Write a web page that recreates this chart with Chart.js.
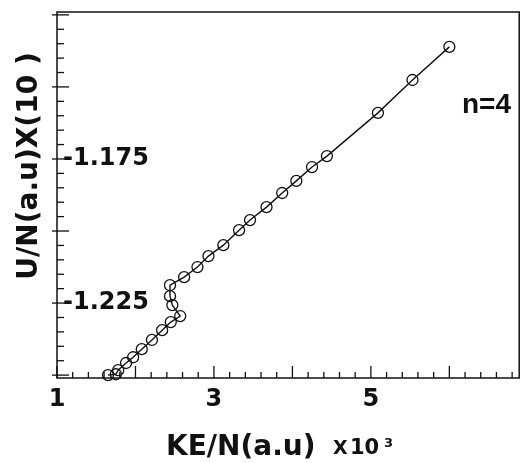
<!DOCTYPE html>
<html>
<head>
<meta charset="utf-8">
<script src="https://cdn.jsdelivr.net/npm/chart.js@4/dist/chart.umd.min.js"></script>
<style>
  html, body { margin: 0; padding: 0; background: #fff; overflow: hidden; }
  canvas { display: block; }
</style>
</head>
<body>
<canvas id="chart" width="526" height="463"></canvas>
<script>
// KE/N (x10^3) and U/N values, in drawing order
const keValues = [1.65, 1.75, 1.78, 1.88, 1.97, 2.08, 2.21, 2.34, 2.45, 2.57,
                  2.47, 2.44, 2.44, 2.62, 2.79, 2.93, 3.12, 3.32, 3.46, 3.67,
                  3.87, 4.05, 4.25, 4.44, 5.09, 5.53, 6.00];
const uValues = [-1.2500, -1.2497, -1.2483, -1.2458, -1.2438, -1.2410, -1.2378, -1.2344, -1.2316, -1.2295,
                 -1.2257, -1.2226, -1.2188, -1.2160, -1.2125, -1.2087, -1.2049, -1.1997, -1.1962, -1.1917,
                 -1.1868, -1.1826, -1.1778, -1.1740, -1.1590, -1.1476, -1.1361];

// tick labels
const xTickLabels = [1, 3, 5];
const yTickLabels = [-1.175, -1.225];

// axis runs off the right edge of the scan
const X_MIN = 1, X_MAX = 6.89;
const Y_MIN = -1.251, Y_MAX = -1.124;
const INK = '#111';

// inward tick marks + frame, drawn through the chart scales
const frameTicks = {
    id: 'frameTicks',
    afterDraw(chart) {
        const { ctx, chartArea: a, scales: { x, y } } = chart;
        ctx.save();
        ctx.strokeStyle = INK;
        ctx.lineWidth = 1.5;
        ctx.strokeRect(a.left, a.top, a.right - a.left, a.bottom - a.top);

        ctx.lineWidth = 1.3;
        // x: minor every 0.2, major every 1
        for (let i = 0; X_MIN + i * 0.2 <= X_MAX; i++) {
            const px = x.getPixelForValue(X_MIN + i * 0.2);
            const len = i % 5 === 0 ? 12 : 6;
            ctx.beginPath();
            ctx.moveTo(px, a.bottom);
            ctx.lineTo(px, a.bottom - len);
            ctx.stroke();
        }
        // y: minor every 0.005, major every 0.025
        for (let i = 0; i <= 25; i++) {
            const py = y.getPixelForValue(-1.25 + i * 0.005);
            const major = i % 5 === 0;
            ctx.beginPath();
            ctx.moveTo(a.left - (major ? 5 : 0), py);
            ctx.lineTo(a.left + (major ? 12 : 7), py);
            ctx.stroke();
        }

        // text
        ctx.fillStyle = INK;
        ctx.textBaseline = 'alphabetic';

        ctx.font = 'bold 28px "Liberation Sans", Arial, sans-serif';
        ctx.textAlign = 'left';
        ctx.fillText('n=4', 462, 113);

        ctx.font = 'bold 28px "DejaVu Sans", sans-serif';
        ctx.fillText('KE/N(a.u)', 166, 455);

        ctx.font = 'bold 19px "DejaVu Sans", sans-serif';
        ctx.fillText('X', 333, 454);
        ctx.font = 'bold 21px "DejaVu Sans", sans-serif';
        ctx.fillText('10', 350, 454);
        ctx.font = 'bold 13px "DejaVu Sans", sans-serif';
        ctx.fillText('3', 384, 447);

        ctx.translate(37, 166);
        ctx.rotate(-Math.PI / 2);
        ctx.textAlign = 'center';
        ctx.font = 'bold 28px "DejaVu Sans", sans-serif';
        ctx.fillText('U/N(a.u)X(10 )', 0, 0);
        ctx.restore();
    }
};

const chart = new Chart(document.getElementById('chart'), {
    type: 'scatter',
    data: {
        datasets: [{
            data: keValues.map((v, i) => ({ x: v, y: uValues[i] })),
            showLine: true,
            borderColor: INK,
            borderWidth: 1.4,
            pointStyle: 'circle',
            pointRadius: 5.5,
            pointBorderWidth: 1.3,
            pointBorderColor: INK,
            pointBackgroundColor: 'rgba(0,0,0,0)',
            tension: 0,
            clip: false
        }]
    },
    options: {
        responsive: false,
        animation: false,
        devicePixelRatio: 1,
        layout: { padding: { top: 12, right: 2, left: 0, bottom: 0 } },
        plugins: { legend: { display: false }, tooltip: { enabled: false } },
        scales: {
            x: {
                type: 'linear',
                min: X_MIN,
                max: X_MAX,
                afterBuildTicks: s => { s.ticks = xTickLabels.map(v => ({ value: v })); },
                afterFit: s => { s.height = 85; s.paddingLeft = 0; s.paddingRight = 0; },
                grid: { display: false, drawTicks: false },
                border: { display: false },
                ticks: {
                    autoSkip: false,
                    maxRotation: 0,
                    padding: 7,
                    color: INK,
                    font: { family: '"DejaVu Sans", sans-serif', size: 24, weight: 'bold' },
                    callback: v => String(v)
                }
            },
            y: {
                type: 'linear',
                min: Y_MIN,
                max: Y_MAX,
                afterBuildTicks: s => { s.ticks = yTickLabels.map(v => ({ value: v })); },
                afterFit: s => { s.width = 57; s.paddingTop = 0; s.paddingBottom = 0; },
                grid: { display: false, drawTicks: false },
                border: { display: false },
                ticks: {
                    mirror: true,
                    padding: 6,
                    autoSkip: false,
                    color: INK,
                    font: { family: '"DejaVu Sans", sans-serif', size: 24, weight: 'bold' },
                    callback: v => v.toFixed(3)
                }
            }
        }
    },
    plugins: [frameTicks]
});
</script>
</body>
</html>
